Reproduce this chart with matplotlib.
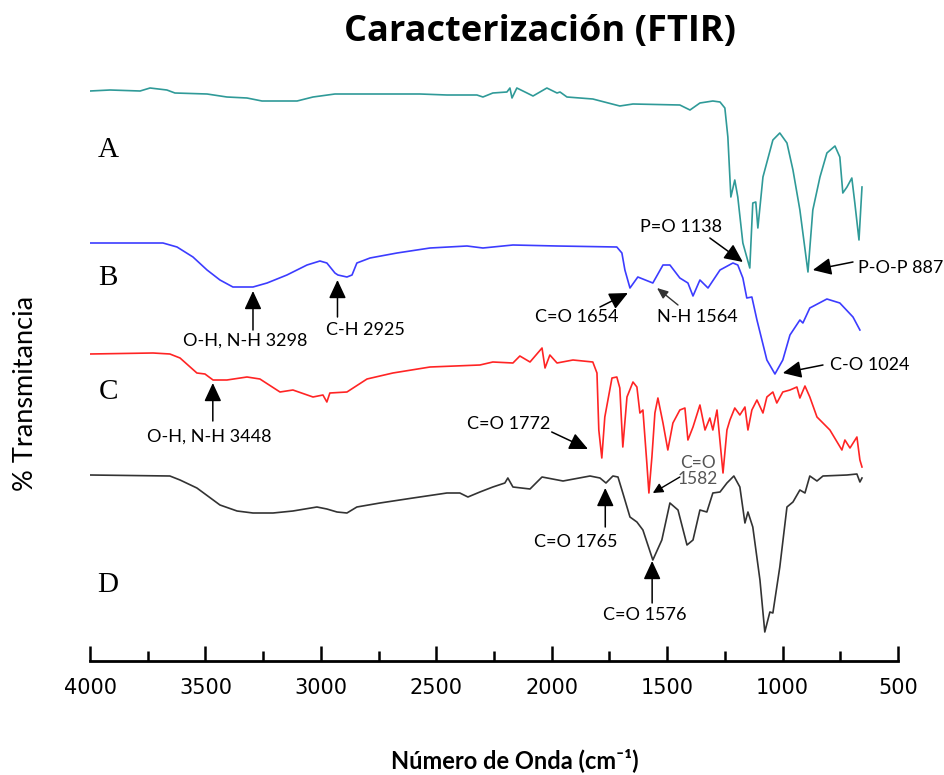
import numpy as np
import matplotlib
matplotlib.use('Agg')
import matplotlib.pyplot as plt

# Espectros FTIR, transmitancia desplazada en unidades arbitrarias
wn_a = [4000, 3913, 3783, 3740, 3667, 3632, 3493, 3407, 3320, 3255, 3103, 3034, 2939, 2571,
        2454, 2324, 2298, 2255, 2194, 2181, 2172, 2151, 2107, 2081, 2021, 1977, 1964, 1934,
        1822, 1705, 1648, 1445, 1401, 1358, 1302, 1271, 1250, 1237, 1224, 1207, 1194, 1172,
        1142, 1129, 1116, 1107, 1085, 1042, 1012, 981, 955, 925, 890, 869, 838, 808, 773,
        752, 739, 721, 700, 687, 669, 656]
t_a = [570, 571, 570, 573, 571, 568, 567, 564, 563, 560, 560, 564, 567, 567,
       566, 566, 564, 568, 569, 573, 563, 573, 568, 565, 573, 568, 569, 564,
       562, 555, 557, 556, 551, 558, 560, 559, 553, 524, 464, 481, 464, 418,
       393, 458, 459, 433, 484, 521, 528, 518, 491, 451, 389, 451, 484, 508, 515,
       504, 468, 474, 483, 458, 421, 474]

wn_b = [4000, 3684, 3623, 3554, 3493, 3437, 3381, 3294, 3233, 3147, 3060, 3004, 2974, 2939,
        2926, 2887, 2865, 2844, 2787, 2670, 2527, 2367, 2298, 2168, 1977, 1718, 1696, 1683,
        1661, 1627, 1562, 1518, 1488, 1445, 1410, 1388, 1358, 1323, 1271, 1215, 1194, 1172,
        1155, 1133, 1111, 1068, 1033, 999, 968, 925, 912, 882, 808, 752, 695, 665]
t_b = [418, 418, 414, 404, 391, 381, 374, 374, 378, 386, 396, 400, 398, 388,
       386, 384, 386, 398, 403, 408, 413, 415, 413, 416, 415, 414, 408, 391,
       373, 384, 378, 396, 396, 383, 378, 365, 381, 373, 391, 398, 396, 383,
       363, 364, 341, 301, 287, 301, 326, 341, 338, 353, 362, 358, 344, 331]

wn_c = [4000, 3727, 3654, 3610, 3537, 3502, 3467, 3407, 3320, 3264, 3177, 3121, 3034, 2991,
        2974, 2961, 2887, 2800, 2688, 2527, 2311, 2255, 2168, 2138, 2094, 2042, 2029, 2008,
        1977, 1908, 1822, 1804, 1796, 1783, 1770, 1739, 1718, 1705, 1692, 1674, 1648, 1631,
        1618, 1605, 1588, 1579, 1566, 1553, 1540, 1518, 1497, 1475, 1445, 1423, 1410, 1388,
        1358, 1336, 1315, 1302, 1284, 1258, 1241, 1228, 1207, 1185, 1163, 1150, 1133, 1111,
        1085, 1068, 1042, 1025, 999, 968, 938, 925, 903, 882, 851, 838, 795, 743, 730, 708,
        678, 665, 656]
t_c = [307, 308, 307, 303, 288, 287, 281, 281, 284, 282, 269, 271, 264, 266,
       259, 268, 269, 282, 288, 294, 296, 299, 298, 305, 299, 313, 293, 306,
       298, 301, 299, 288, 231, 203, 244, 283, 284, 273, 214, 264, 279, 274,
       248, 251, 198, 168, 204, 248, 263, 238, 211, 238, 251, 253, 221, 234,
       256, 231, 243, 231, 251, 188, 231, 241, 253, 246, 254, 231, 251, 261,
       248, 264, 269, 258, 269, 271, 274, 263, 275, 264, 244, 241, 231, 211, 221, 213,
       224, 201, 194]

wn_d = [4000, 3654, 3610, 3537, 3437, 3363, 3294, 3207, 3121, 3017, 2974, 2930, 2887, 2844,
        2744, 2601, 2454, 2398, 2363, 2311, 2255, 2203, 2190, 2168, 2094, 2042, 1951, 1834,
        1791, 1765, 1735, 1713, 1692, 1661, 1631, 1605, 1562, 1523, 1488, 1453, 1414, 1388,
        1358, 1328, 1302, 1271, 1241, 1211, 1185, 1163, 1150, 1129, 1098, 1077, 1055, 1042,
        1012, 981, 955, 925, 903, 882, 851, 825, 721, 678, 665, 656]
t_d = [186, 185, 181, 173, 156, 150, 148, 148, 150, 154, 152, 149, 148, 154,
       158, 163, 168, 168, 164, 169, 174, 178, 183, 174, 172, 184, 180, 185,
       183, 178, 185, 184, 168, 144, 139, 131, 101, 121, 158, 151, 116, 121,
       151, 149, 168, 169, 178, 185, 174, 138, 149, 134, 81, 29, 49, 48,
       94, 154, 159, 171, 168, 185, 180, 185, 186, 187, 179, 183]

series = [('A', wn_a, t_a, '#2f9a98', 511),
          ('B', wn_b, t_b, '#3c3cff', 383),
          ('C', wn_c, t_c, '#ff2424', 269),
          ('D', wn_d, t_d, '#333333', 76)]

# etiquetas de bandas: texto, posicion texto, punta, cola, alineacion
bands = [
    ('O-H, N-H 3298', (3329, 320), (3294, 370), (3294, 331), 'center'),
    ('C-H 2925', (2805, 331), (2928, 381), (2928, 344), 'center'),
    ('O-H, N-H 3448', (3485, 224), (3468, 278), (3468, 240), 'center'),
    ('C=O 1772', (2185, 237), (1843, 212), (2000, 229), 'center'),
    ('C=O 1654', (1891, 344), (1670, 368), (1791, 354), 'center'),
    ('P=O 1138', (1440, 434), (1172, 399), (1315, 423), 'center'),
    ('P-O-P 887', (674, 393), (869, 391), (695, 399), 'left'),
    ('C-O 1024', (795, 296), (999, 288), (825, 296), 'left'),
    ('C=O 1765', (1895, 119), (1768, 173), (1768, 134), 'center'),
    ('C=O 1576', (1596, 46), (1565, 100), (1565, 58), 'center'),
]

fig = plt.figure(figsize=(9.45, 7.75), dpi=100)
ax = fig.add_axes([90/945, 114/775, 808/945, 601/775])

for name, wn, t, col, ylab in series:
    ax.plot(wn, t, color=col, lw=1.2)
    ax.text(3922, ylab, name, fontsize=21, family='Liberation Serif',
            ha='center', va='center')

arrow_kw = dict(arrowstyle='-|>,head_length=0.75,head_width=0.35', color='black',
                lw=1.1, mutation_scale=15, shrinkA=0, shrinkB=0)
for label, pos, tip, tail, ha in bands:
    ax.text(pos[0], pos[1], label, fontsize=13, family='Lato', ha=ha, va='center')
    ax.annotate('', xy=tip, xytext=tail, arrowprops=arrow_kw)

# N-H 1564 con flecha fina
ax.text(1367, 344, 'N-H 1564', fontsize=13, family='Lato', ha='center', va='center')
ax.annotate('', xy=(1544, 373), xytext=(1453, 356),
            arrowprops=dict(arrowstyle='-|>,head_length=0.6,head_width=0.25', color='#333333',
                            lw=1.0, mutation_scale=11, shrinkA=0, shrinkB=0))
# C=O 1582 en gris
ax.text(1367, 190, 'C=O\n1582', fontsize=12.5, family='Lato', color='#555555',
        ha='center', va='center', linespacing=1.05)
ax.annotate('', xy=(1562, 168), xytext=(1445, 184),
            arrowprops=dict(arrowstyle='-|>,head_length=0.6,head_width=0.3', color='black',
                            lw=1.0, mutation_scale=10, shrinkA=0, shrinkB=0))

ax.set_xlim(4000, 500)
ax.set_ylim(0, 601)
ax.set_xticks(np.arange(4000, 499, -500))
ax.set_xticks(np.arange(3750, 500, -500), minor=True)
ax.set_yticks([])
for s in ['left', 'right', 'top']:
    ax.spines[s].set_visible(False)
ax.spines['bottom'].set_linewidth(2)
ax.tick_params(axis='x', which='major', direction='in', length=11, width=1.8, pad=12)
ax.tick_params(axis='x', which='minor', direction='in', length=7, width=1.8)
for lbl in ax.get_xticklabels():
    lbl.set_fontfamily(['Liberation Sans Narrow', 'DejaVu Sans'])
    lbl.set_fontsize(15)

fig.text(540/945, 1 - 32/775, 'Caracterización (FTIR)', fontsize=26, fontweight='bold',
         family='Open Sans', ha='center', va='center')
fig.text(26/945, 1 - 393/775, '% Transmitancia', fontsize=19.5, family='Lato',
         rotation=90, ha='center', va='center')
fig.text(515/945, 1 - 760/775, 'Número de Onda (cm⁻¹)', fontsize=17,
         fontweight='bold', family=['Lato', 'DejaVu Sans'], ha='center', va='center')

fig.savefig('out.png', dpi=100)
